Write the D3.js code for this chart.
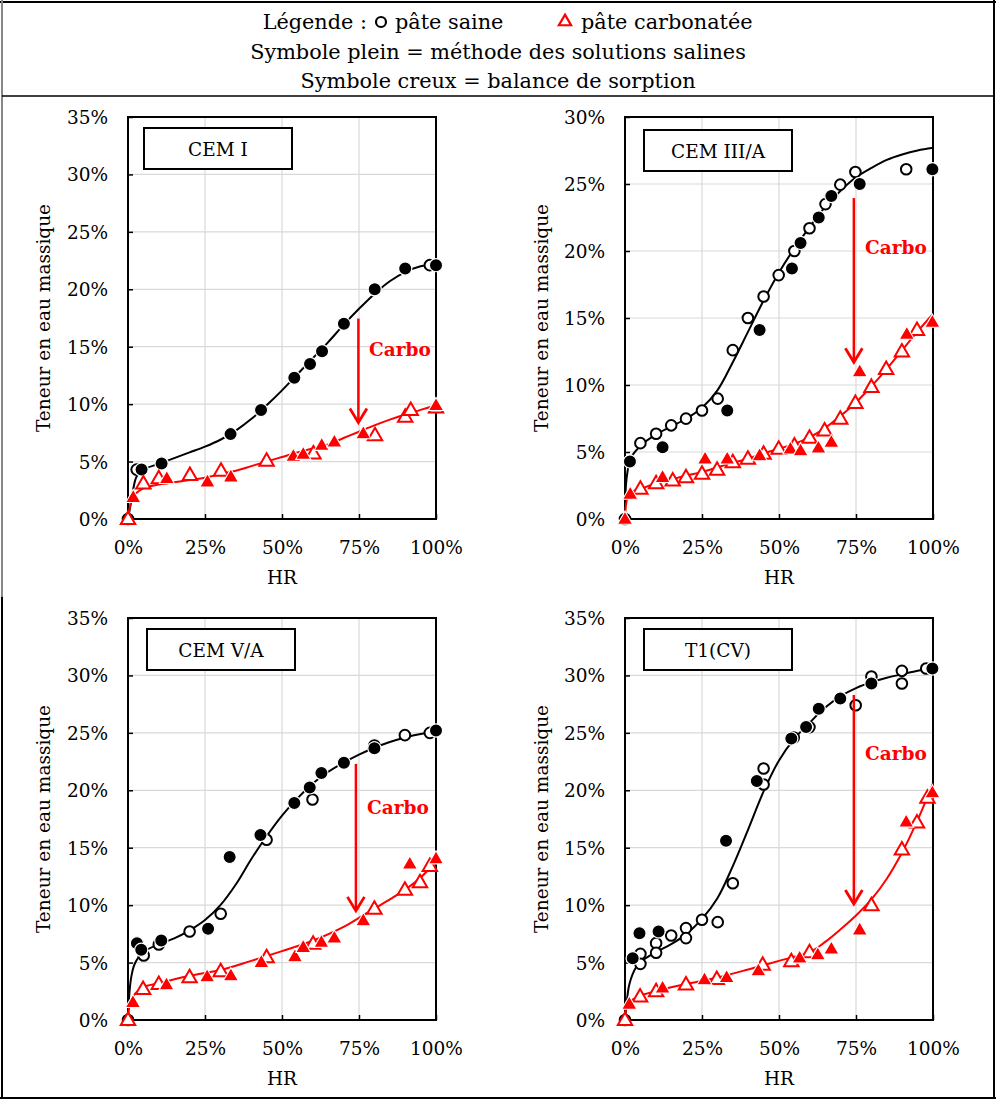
<!DOCTYPE html>
<html><head><meta charset="utf-8">
<script src="https://cdn.jsdelivr.net/npm/d3@7"></script>
<style>
body{margin:0;background:#fff}
svg{display:block}
text{font-family:"DejaVu Serif","Liberation Serif",serif;fill:#000}
</style>
</head><body>
<svg id="chart" width="996" height="1100"></svg>
<script>
// ---------------- DATA (values in %) ----------------
const panelNames = ["CEM I", "CEM III/A", "CEM V/A", "T1(CV)"];
const yMaxValues = [35, 30, 35, 35];
const xTickValues = [0, 25, 50, 75, 100];
const yTickStep = 5;

// CEM I
const cem1SainPlein = [[4.4,4.3],[10.9,4.84],[33.3,7.39],[43.2,9.48],[54.0,12.3],[59.1,13.5],[63.0,14.6],[70.1,17.0],[80.1,20.0],[90.0,21.8],[100,22.1]];
const cem1SainCreux = [[0,0],[2.8,4.3],[98,22.1]];
const cem1CarbPlein = [[1.7,1.9],[12.6,3.54],[25.8,3.25],[33.4,3.68],[53.7,5.48],[56.9,5.65],[62.9,6.43],[67,6.72],[76.4,7.45],[100,9.9]];
const cem1CarbCreux = [[0,0],[5,3.1],[10,3.54],[20.1,3.83],[30.2,4.2],[45,5.07],[60.2,5.71],[80.2,7.3],[90,8.9],[91.8,9.48],[100,9.7]];
const cem1FitSain = [[0,0],[1,1.5],[1.7,2.6],[2.8,3.7],[5,4.3],[10,4.8],[15,5.3],[20,5.8],[25,6.3],[30,6.9],[35,7.7],[40,8.7],[45,9.9],[50,11.2],[55,12.6],[60,14.0],[65,15.4],[70,16.9],[75,18.3],[80,19.6],[85,20.7],[90,21.5],[95,22.0],[100,22.2]];
const cem1FitCarb = [[0,0],[1.7,1.94],[5,2.67],[10,3.0],[15,3.2],[20,3.4],[25,3.6],[30,3.9],[35,4.2],[40,4.6],[45,5.0],[50,5.4],[55,5.8],[60,6.15],[65,6.5],[70,7.05],[75,7.6],[80,8.15],[85,8.65],[90,9.1],[95,9.5],[100,9.9]];

// CEM III/A
const cem3SainPlein = [[1.6,4.29],[12.2,5.36],[33.2,8.1],[43.7,14.1],[54.2,18.7],[57.0,20.6],[62.9,22.5],[67.0,24.1],[76.2,25.0],[99.8,26.1]];
const cem3SainCreux = [[0,0],[5,5.66],[10.1,6.36],[15,6.99],[19.8,7.49],[25,8.1],[30.1,8.98],[35,12.6],[39.9,15.0],[45,16.6],[49.9,18.2],[55,20.0],[59.9,21.7],[65.1,23.5],[69.9,24.95],[74.8,25.9],[91.3,26.1]];
const cem3CarbPlein = [[0,0],[1.7,1.87],[12.2,3.12],[26,4.49],[33.2,4.49],[43.7,4.74],[53.7,5.24],[57,5.11],[62.8,5.31],[67,5.74],[76.2,11.0],[91.5,13.8],[99.8,14.7]];
const cem3CarbCreux = [[5,2.25],[10.1,2.67],[15.5,2.87],[19.8,3.12],[25,3.37],[29.9,3.67],[35,4.24],[39.9,4.49],[45,4.87],[49.9,5.24],[55,5.49],[59.9,6.06],[64.8,6.61],[69.9,7.49],[74.8,8.66],[80,9.86],[84.8,11.2],[89.9,12.5],[94.8,14.1]];
const cem3FitSain = [[0,0],[0.5,3.0],[2,4.6],[5.7,5.6],[10,6.3],[15,6.9],[20,7.5],[25,8.3],[30,9.6],[35,11.7],[40,14.0],[45,16.3],[50,18.4],[55,20.2],[60,21.8],[65,23.3],[70,24.5],[75,25.5],[80,26.2],[85,26.8],[90,27.2],[95,27.5],[100,27.7]];
const cem3FitCarb = [[0,0],[1.4,1.87],[5.2,2.25],[10,2.65],[15,2.95],[20,3.25],[25,3.5],[30,3.85],[35,4.2],[40,4.5],[45,4.9],[50,5.25],[55,5.6],[60,6.1],[65,6.8],[70,7.7],[75,8.7],[80,9.9],[85,11.2],[90,12.6],[95,14.0],[100,15.3]];

// CEM V/A
const cem5SainPlein = [[2.9,6.69],[4.3,6.11],[10.8,6.92],[26,7.94],[33,14.2],[43,16.1],[54,18.9],[59,20.25],[62.8,21.5],[70.1,22.4],[80,23.65],[100,25.2]];
const cem5SainCreux = [[0,0],[5.1,5.62],[10,6.58],[20,7.71],[30.1,9.25],[45,15.7],[59.9,19.2],[80,23.9],[89.9,24.8],[98,25.0]];
const cem5CarbPlein = [[1.6,1.54],[12.5,3.08],[25.7,3.78],[33.4,3.87],[43.3,5.03],[54.2,5.53],[56.9,6.34],[62.8,6.78],[67,7.16],[76.4,8.67],[91.5,13.6],[100,14.05]];
const cem5CarbCreux = [[0,0],[4.9,2.7],[10,3.14],[20,3.72],[30.1,4.25],[45,5.47],[60.1,6.63],[80,9.69],[89.9,11.35],[94.8,12.0],[98,13.4]];
const cem5FitSain = [[0,0],[0.5,2.5],[1.1,3.8],[2.2,4.9],[4.9,5.9],[10,6.6],[15,7.1],[20,7.8],[25,8.7],[30,10.0],[35,11.8],[40,14.0],[45,16.0],[50,17.8],[55,19.3],[60,20.6],[65,21.6],[70,22.4],[75,23.1],[80,23.7],[85,24.2],[90,24.6],[95,24.9],[100,25.1]];
const cem5FitCarb = [[0,0],[1.1,1.83],[4.9,2.85],[10,3.2],[20,3.85],[30,4.35],[40,5.15],[50,6.0],[60,6.9],[70,8.1],[75,8.9],[80,9.7],[85,10.5],[90,11.35],[95,12.4],[100,13.8]];

// T1(CV)
const t1SainPlein = [[2.5,5.38],[4.7,7.56],[10.9,7.71],[32.8,15.6],[42.8,20.8],[54,24.5],[58.8,25.5],[62.9,27.1],[69.9,28.0],[80,29.3],[99.8,30.6]];
const t1SainCreux = [[0,0],[5,5.76],[5,4.89],[10.1,6.69],[10.1,5.85],[15,7.36],[19.8,8.0],[19.8,7.13],[25,8.73],[30.1,8.52],[35,11.9],[45,21.9],[45,20.5],[54.8,24.6],[59.9,25.5],[74.9,27.4],[80,29.9],[89.9,30.4],[89.9,29.3],[97.8,30.6]];
const t1CarbPlein = [[1.4,1.4],[12.2,2.8],[25.8,3.52],[33,3.72],[43.3,4.3],[56.7,5.41],[62.6,5.7],[67,6.2],[76.2,7.86],[91.3,17.25],[99.8,19.8]];
const t1CarbCreux = [[0,0],[4.9,2.04],[10.1,2.5],[19.8,3.08],[29.8,3.58],[44.7,4.8],[54,5.12],[59.9,5.9],[80,9.98],[89.9,14.84],[94.8,17.2],[98.2,19.35]];
const t1FitSain = [[0,0],[0.3,0.8],[1.4,3.1],[3.6,4.6],[5.7,5.2],[10,5.9],[15,6.6],[20,7.5],[25,8.8],[30,10.6],[35,13.4],[40,16.6],[45,19.9],[50,22.6],[55,24.5],[60,25.9],[65,27.2],[70,28.2],[75,28.9],[80,29.4],[85,29.8],[90,30.1],[95,30.4],[100,30.6]];
const t1FitCarb = [[0,0],[0.9,1.4],[4.9,2.1],[10,2.5],[20,3.15],[30,3.7],[40,4.4],[50,5.15],[55,5.5],[60,5.9],[65,6.8],[70,7.9],[75,9.1],[80,10.5],[85,12.3],[90,14.6],[95,17.4],[100,20.6]];

// Carbo arrows: [HR, from W, to W]
const carboArrows = [[74.8,17.45,8.4],[74.3,23.95,11.7],[74.0,22.3,9.5],[74.3,28.3,10.1]];

const legendLines = ["Symbole plein = méthode des solutions salines", "Symbole creux = balance de sorption"];

// ---------------- LAYOUT ----------------
const panelData = [
  {sp:cem1SainPlein, sc:cem1SainCreux, cp:cem1CarbPlein, cc:cem1CarbCreux, fs:cem1FitSain, fc:cem1FitCarb},
  {sp:cem3SainPlein, sc:cem3SainCreux, cp:cem3CarbPlein, cc:cem3CarbCreux, fs:cem3FitSain, fc:cem3FitCarb},
  {sp:cem5SainPlein, sc:cem5SainCreux, cp:cem5CarbPlein, cc:cem5CarbCreux, fs:cem5FitSain, fc:cem5FitCarb},
  {sp:t1SainPlein, sc:t1SainCreux, cp:t1CarbPlein, cc:t1CarbCreux, fs:t1FitSain, fc:t1FitCarb}
];
const geom = [
  {x0:128, x1:436, y0:117, y1:519, box:[16,11], carbo:[369,349], ylab:43},
  {x0:625, x1:933, y0:117, y1:519, box:[19,13], carbo:[865,247], ylab:541},
  {x0:128, x1:436, y0:618, y1:1020, box:[19,11], carbo:[367,807], ylab:43},
  {x0:625, x1:933, y0:618, y1:1020, box:[19,11], carbo:[865,753], ylab:541}
];
const RED = "#ff0000";
const svg = d3.select("#chart");

// Outer frame
svg.append("line").attr("x1",0).attr("x2",996).attr("y1",2).attr("y2",2).attr("stroke","#000").attr("stroke-width",2);
svg.append("line").attr("x1",2).attr("x2",2).attr("y1",0).attr("y2",597).attr("stroke","#888").attr("stroke-width",2);
svg.append("line").attr("x1",2).attr("x2",2).attr("y1",597).attr("y2",1099).attr("stroke","#000").attr("stroke-width",2);
svg.append("line").attr("x1",994).attr("x2",994).attr("y1",0).attr("y2",1099).attr("stroke","#000").attr("stroke-width",2);
svg.append("line").attr("x1",0).attr("x2",996).attr("y1",1098).attr("y2",1098).attr("stroke","#000").attr("stroke-width",2);
svg.append("line").attr("x1",2).attr("x2",994).attr("y1",96).attr("y2",96).attr("stroke","#000").attr("stroke-width",1.5);

// Triangle path
const triPath = "M0,-7.5L7.2,5L-7.2,5Z";

// Legend
const LF = 20.8;
const lg = svg.append("g");
lg.append("text").attr("x",367).attr("y",22).attr("text-anchor","end").attr("dominant-baseline","central").attr("font-size",LF).text("Légende :");
lg.append("circle").attr("cx",381).attr("cy",22).attr("r",5).attr("fill","#fff").attr("stroke","#000").attr("stroke-width",2.2);
lg.append("text").attr("x",395).attr("y",22).attr("dominant-baseline","central").attr("font-size",LF).text("pâte saine");
lg.append("path").attr("d",triPath).attr("transform","translate(565,21) scale(0.85)").attr("fill","#fff").attr("stroke",RED).attr("stroke-width",2.6);
lg.append("text").attr("x",581).attr("y",22).attr("dominant-baseline","central").attr("font-size",LF).text("pâte carbonatée");
legendLines.forEach((t,i)=>{
  lg.append("text").attr("x",498).attr("y",52+i*29).attr("text-anchor","middle").attr("dominant-baseline","central").attr("font-size",LF).text(t);
});

panelData.forEach((pd,i)=>{
  const g = geom[i];
  const yMax = yMaxValues[i];
  const x = d3.scaleLinear().domain([0,100]).range([g.x0,g.x1]);
  const y = d3.scaleLinear().domain([0,yMax]).range([g.y1,g.y0]);
  const yTicks = d3.range(0, yMax+0.001, yTickStep);
  const p = svg.append("g");

  // grid
  p.append("g").selectAll("line").data(yTicks.filter(v=>v>0&&v<yMax)).join("line")
    .attr("x1",g.x0).attr("x2",g.x1).attr("y1",d=>y(d)).attr("y2",d=>y(d)).attr("stroke","#d9d9d9").attr("stroke-width",1.2);
  p.append("g").selectAll("line").data(xTickValues.filter(v=>v>0&&v<100)).join("line")
    .attr("y1",g.y0).attr("y2",g.y1).attr("x1",d=>x(d)).attr("x2",d=>x(d)).attr("stroke","#d9d9d9").attr("stroke-width",1.2);

  // axes with d3 axis (inner ticks)
  const yAxis = d3.axisLeft(y).tickValues(yTicks).tickSize(-5).tickPadding(20).tickFormat(d=>d+"%");
  const ya = p.append("g").attr("transform",`translate(${g.x0},0)`).call(yAxis);
  const xAxis = d3.axisBottom(x).tickValues(xTickValues).tickSize(-5).tickPadding(22).tickFormat(d=>d+"%");
  const xa = p.append("g").attr("transform",`translate(0,${g.y1})`).call(xAxis);
  [ya,xa].forEach(a=>{
    a.select(".domain").remove();
    a.selectAll(".tick line").attr("stroke","#000").attr("stroke-width",1.5);
    a.selectAll(".tick text").attr("font-size",18.5).attr("font-family","DejaVu Serif").attr("fill","#000");
  });
  ya.selectAll(".tick text").attr("dy","0.35em");
  xa.selectAll(".tick text").attr("dy","0.35em").attr("y",29);

  // frame
  p.append("rect").attr("x",g.x0).attr("y",g.y0).attr("width",g.x1-g.x0).attr("height",g.y1-g.y0)
    .attr("fill","none").attr("stroke","#000").attr("stroke-width",2);

  // axis titles
  p.append("text").attr("x",(g.x0+g.x1)/2).attr("y",g.y1+58).attr("text-anchor","middle").attr("dominant-baseline","central").attr("font-size",18.5).text("HR");
  p.append("text").attr("transform",`translate(${g.ylab},${(g.y0+g.y1)/2}) rotate(-90)`).attr("text-anchor","middle").attr("dominant-baseline","central").attr("font-size",18.5).text("Teneur en eau massique");

  // title box
  p.append("rect").attr("x",g.x0+g.box[0]).attr("y",g.y0+g.box[1]).attr("width",148).attr("height",41)
    .attr("fill","#fff").attr("stroke","#000").attr("stroke-width",2);
  p.append("text").attr("x",g.x0+g.box[0]+74).attr("y",g.y0+g.box[1]+21).attr("text-anchor","middle").attr("dominant-baseline","central").attr("font-size",18.5).text(panelNames[i]);

  // fit curves
  const line = d3.line().x(d=>x(d[0])).y(d=>y(d[1])).curve(d3.curveCatmullRom.alpha(0.5));
  p.append("path").datum(pd.fs).attr("d",line).attr("fill","none").attr("stroke","#000").attr("stroke-width",2);
  p.append("path").datum(pd.fc).attr("d",line).attr("fill","none").attr("stroke",RED).attr("stroke-width",2);

  // markers
  p.append("g").selectAll("circle").data(pd.sc).join("circle")
    .attr("cx",d=>x(d[0])).attr("cy",d=>y(d[1])).attr("r",5.3).attr("fill","#fff").attr("stroke","#000").attr("stroke-width",2);
  p.append("g").selectAll("circle").data(pd.sp).join("circle")
    .attr("cx",d=>x(d[0])).attr("cy",d=>y(d[1])).attr("r",6.6).attr("fill","#000").attr("stroke","#fff").attr("stroke-width",1.2);
  p.append("g").selectAll("path").data(pd.cc).join("path")
    .attr("d",triPath).attr("transform",d=>`translate(${x(d[0])},${y(d[1])})`)
    .attr("fill","#fff").attr("stroke",RED).attr("stroke-width",2);
  p.append("g").selectAll("path").data(pd.cp).join("path")
    .attr("d",triPath).attr("transform",d=>`translate(${x(d[0])},${y(d[1])}) scale(1.05)`)
    .attr("fill",RED).attr("stroke","#fff").attr("stroke-width",1);

  // Carbo arrow
  const a = carboArrows[i];
  const ax = x(a[0]), ay1 = y(a[1]), ay2 = y(a[2]);
  p.append("line").attr("x1",ax).attr("x2",ax).attr("y1",ay1).attr("y2",ay2-1).attr("stroke",RED).attr("stroke-width",2.5);
  p.append("path").attr("d",`M${ax-8.5},${ay2-14}L${ax},${ay2}L${ax+8.5},${ay2-14}`).attr("fill","none").attr("stroke",RED).attr("stroke-width",2.8);
  p.append("text").attr("x",g.carbo[0]).attr("y",g.carbo[1]).attr("dominant-baseline","central")
    .attr("font-size",18.5).attr("font-weight","bold").style("fill",RED).text("Carbo");
});
</script>
</body></html>
